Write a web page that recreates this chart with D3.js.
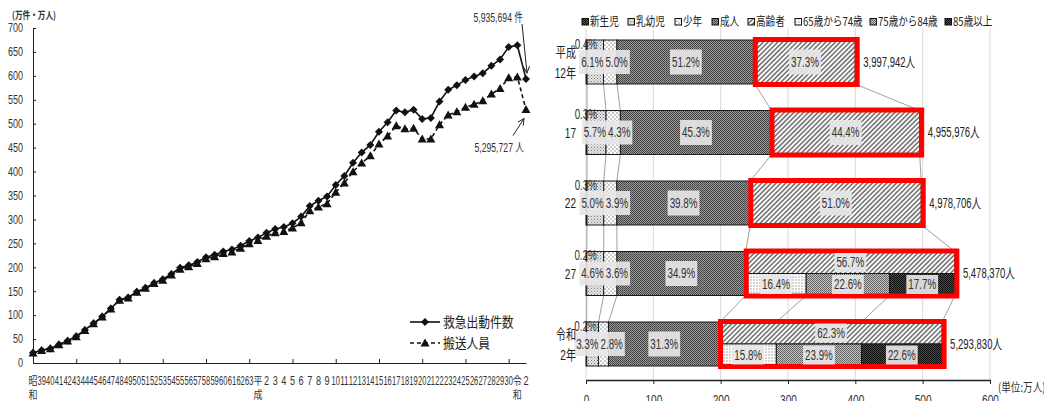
<!DOCTYPE html>
<html>
<head>
<meta charset="utf-8">
<script src="https://cdn.jsdelivr.net/npm/d3@7"></script>
<style>
  body { margin: 0; background: #fff; }
  svg { display: block; background: #fff; }
</style>
</head>
<body>
<svg id="chart" width="1044" height="401"></svg>
<script>
// ===== Line chart: ambulance dispatches and people transported, 1963–2020 =====
const yearLabels = [
  "昭和","39","40","41","42","43","44","45","46","47","48","49","50","51","52","53","54",
  "55","56","57","58","59","60","61","62","63",
  "平成","2","3","4","5","6","7","8","9","10","11","12","13","14","15","16","17","18","19",
  "20","21","22","23","24","25","26","27","28","29","30",
  "令和","2"
];
// 救急出動件数 (万件)
const dispatches = [
  21.3, 26.5, 30.5, 38.5, 46.5, 56, 69, 83, 97, 114, 132, 137, 149, 157, 167, 175, 186,
  199, 204, 211, 221, 226, 233, 237, 245, 255,
  262, 272, 280, 284, 292, 306, 328, 339, 348, 372, 391, 418.3, 439.8, 455.6, 483.1, 502.9,
  527.8, 523.8, 529.3, 509.7, 512.2, 546.4, 570.8, 580.2, 591.6, 598.5, 605.5, 621.0, 634.2, 660.5,
  664.0, 593.6
];
// 搬送人員 (万人)
const transported = [
  21, 26, 30, 38, 46, 55, 68, 82, 96, 113, 131, 136, 148, 156, 166, 173, 184,
  196, 201, 208, 218, 222, 229, 232, 240, 249,
  256, 265, 272, 275, 282, 293, 318, 326, 333, 357, 376, 399.8, 417.8, 433.1, 457.5, 474.3,
  495.6, 489.3, 490.3, 467.9, 468.3, 497.9, 518.3, 525.0, 534.6, 540.6, 547.8, 562.1, 573.6, 596.0,
  597.8, 529.6
];
const yTicks = [0, 50, 100, 150, 200, 250, 300, 350, 400, 450, 500, 550, 600, 650, 700];
const lineSeries = ["救急出動件数", "搬送人員"];
const lastDispatchText = "5,935,694 件";
const lastTransportText = "5,295,727 人";

// ===== Stacked bars: transported people by age group =====
const barYears = ["平成\n12年", "17", "22", "27", "令和\n2年"];
const barTotals = [3997942, 4955976, 4978706, 5478370, 5293830];
const groupNames = ["新生児", "乳幼児", "少年", "成人", "高齢者"];
const shNewborn = [0.4, 0.3, 0.3, 0.2, 0.2];
const shInfant  = [6.1, 5.7, 5.0, 4.6, 3.3];
const shYouth   = [5.0, 4.3, 3.9, 3.6, 2.8];
const shAdult   = [51.2, 45.3, 39.8, 34.9, 31.3];
const shElderly = [37.3, 44.4, 51.0, 56.7, 62.3];
const elderNames = ["65歳から74歳", "75歳から84歳", "85歳以上"];
const sh65to74 = [null, null, null, 16.4, 15.8];
const sh75to84 = [null, null, null, 22.6, 23.9];
const sh85plus = [null, null, null, 17.7, 22.6];
const barTicks = [0, 100, 200, 300, 400, 500, 600];
const unitLabel = "(単位:万人)";
const yAxisTitle = "(万件・万人)";

// ---------------------------------------------------------------
const SANS = '"Liberation Sans","Noto Sans CJK JP",sans-serif';
const JP = '"Noto Sans CJK JP","Noto Sans",sans-serif';
const svg = d3.select("#chart");
const defs = svg.append("defs");

// condensed look: shrink each text horizontally by a factor
function squeeze(sel, f) {
  sel.each(function () {
    const w = this.getComputedTextLength();
    d3.select(this).attr("textLength", w * f).attr("lengthAdjust", "spacingAndGlyphs");
  });
  return sel;
}

// ---------- left chart ----------
const xL = d3.scalePoint().domain(d3.range(yearLabels.length)).range([33, 526]);
const yL = d3.scaleLinear().domain([0, 700]).range([363, 28]);
const gL = svg.append("g");

gL.append("g")
  .attr("transform", "translate(33,0)")
  .call(d3.axisLeft(yL).tickValues(yTicks).tickSize(-3).tickSizeOuter(0).tickPadding(10))
  .call(g => g.attr("font-family", SANS).attr("font-size", 12))
  .call(g => g.select(".domain").attr("stroke", "#222"))
  .call(g => g.selectAll(".tick line").attr("stroke", "#222"))
  .call(g => squeeze(g.selectAll(".tick text").attr("fill", "#333"), 0.75));

gL.append("g")
  .attr("transform", "translate(0,363)")
  .call(d3.axisBottom(xL).tickValues(d3.range(0, yearLabels.length, 5)).tickSize(-4).tickSizeOuter(0).tickFormat(""))
  .call(g => g.select(".domain").attr("stroke", "#222"))
  .call(g => g.selectAll(".tick line").attr("stroke", "#222"));

// category labels: era names are stacked vertically, numbers squeezed into their slot
const xLab = gL.append("g").attr("fill", "#333");
yearLabels.forEach((lab, i) => {
  const isEra = /[^\d]/.test(lab);
  const parts = isEra ? lab.split("") : [lab];
  parts.forEach((p, k) => {
    const t = xLab.append("text")
      .attr("x", xL(i)).attr("y", 385 + k * 14)
      .attr("text-anchor", "middle")
      .attr("font-family", isEra ? JP : SANS)
      .attr("font-size", isEra ? 11 : 13)
      .text(p);
    const w = t.node().getComputedTextLength();
    const target = isEra ? 9 : Math.min(8.4, w * 0.7);
    t.attr("textLength", target).attr("lengthAdjust", "spacingAndGlyphs");
  });
});

gL.append("text")
  .attr("x", 12).attr("y", 19)
  .attr("font-family", JP).attr("font-size", 10).attr("font-weight", "bold")
  .attr("fill", "#333")
  .attr("textLength", 44).attr("lengthAdjust", "spacingAndGlyphs")
  .text(yAxisTitle);

const diamond = "M0,-4L4,0L0,4L-4,0Z";
const triangle = "M0,-4.5L4.5,3.5L-4.5,3.5Z";
const lineGen = d3.line().x((d, i) => xL(i)).y(d => yL(d));

gL.append("path").datum(dispatches).attr("d", lineGen)
  .attr("fill", "none").attr("stroke", "#111").attr("stroke-width", 1.6);
gL.append("g").selectAll("path").data(dispatches).join("path")
  .attr("d", diamond).attr("fill", "#111")
  .attr("transform", (d, i) => `translate(${xL(i)},${yL(d)})`);

gL.append("path").datum(transported).attr("d", lineGen)
  .attr("fill", "none").attr("stroke", "#111").attr("stroke-width", 1.6)
  .attr("stroke-dasharray", "4,3");
gL.append("g").selectAll("path").data(transported).join("path")
  .attr("d", triangle).attr("fill", "#111")
  .attr("transform", (d, i) => `translate(${xL(i)},${yL(d)})`);

// legend
const legL = gL.append("g").attr("font-family", JP).attr("font-size", 14).attr("fill", "#222");
[[diamond, null], [triangle, "4,3"]].forEach(([mk, dash], k) => {
  const yy = 322 + k * 21;
  legL.append("line").attr("x1", 410).attr("x2", 440).attr("y1", yy).attr("y2", yy)
    .attr("stroke", "#111").attr("stroke-width", 1.6).attr("stroke-dasharray", dash);
  legL.append("path").attr("d", mk).attr("fill", "#111").attr("transform", `translate(425,${yy})`);
  squeeze(legL.append("text").attr("x", 443).attr("y", yy).attr("dy", "0.36em").text(lineSeries[k]), 0.84);
});

// annotations on the last year
defs.append("marker").attr("id", "arrowOpen")
  .attr("viewBox", "0 0 10 10").attr("refX", 9).attr("refY", 5)
  .attr("markerWidth", 8).attr("markerHeight", 8).attr("orient", "auto")
  .attr("markerUnits", "userSpaceOnUse")
  .append("path").attr("d", "M1,1L9,5L1,9").attr("fill", "none").attr("stroke", "#222").attr("stroke-width", 1.2);

const lastI = yearLabels.length - 1;
const lx = xL(lastI);
const lyD = yL(dispatches[lastI]);
const lyT = yL(transported[lastI]);
gL.append("line").attr("x1", lx - 4).attr("y1", 24).attr("x2", lx + 1).attr("y2", lyD - 6)
  .attr("stroke", "#222").attr("stroke-width", 1).attr("marker-end", "url(#arrowOpen)");
squeeze(gL.append("text").attr("x", lx - 3).attr("y", 18).attr("dy", "0.35em")
  .attr("text-anchor", "end").attr("font-family", SANS).attr("font-size", 12).attr("fill", "#333")
  .text(lastDispatchText), 0.72);
gL.append("line").attr("x1", lx - 13).attr("y1", lyT + 26).attr("x2", lx - 2).attr("y2", lyT + 9)
  .attr("stroke", "#222").attr("stroke-width", 1).attr("marker-end", "url(#arrowOpen)");
squeeze(gL.append("text").attr("x", lx - 2).attr("y", lyT + 38).attr("dy", "0.35em")
  .attr("text-anchor", "end").attr("font-family", SANS).attr("font-size", 12).attr("fill", "#333")
  .text(lastTransportText), 0.72);

// ---------- right chart ----------
function makePattern(id, size, bg, marks, rotate) {
  const p = defs.append("pattern").attr("id", id)
    .attr("patternUnits", "userSpaceOnUse").attr("width", size).attr("height", size);
  if (rotate) p.attr("patternTransform", `rotate(${rotate})`);
  p.append("rect").attr("width", size).attr("height", size).attr("fill", bg);
  marks.forEach(m => {
    if (m.line) p.append("line").attr("x1", m.x).attr("x2", m.x).attr("y1", 0).attr("y2", size)
      .attr("stroke", m.c).attr("stroke-width", m.w);
    else p.append("rect").attr("x", m.x).attr("y", m.y).attr("width", m.s).attr("height", m.s).attr("fill", m.c);
  });
}
makePattern("pNewborn", 2, "#555", [{x: 0, y: 0, s: 1, c: "#111"}, {x: 1, y: 1, s: 1, c: "#111"}]);
makePattern("pInfant", 3, "#e4e4e4", [{x: 0, y: 0, s: 1, c: "#7a7a7a"}, {x: 1.5, y: 1.5, s: 1, c: "#9a9a9a"}]);
makePattern("pYouth", 4, "#fff", [{x: 0.5, y: 0.5, s: 1, c: "#222"}, {x: 2.5, y: 2.5, s: 1, c: "#444"}]);
makePattern("pAdult", 2, "#9a9a9a", [{x: 0, y: 0, s: 1, c: "#3c3c3c"}, {x: 1, y: 1, s: 1, c: "#4a4a4a"}]);
makePattern("pElderly", 3.4, "#fff", [{line: true, x: 1.7, c: "#333", w: 1.1}], 45);
makePattern("p65", 3, "#fff", [{x: 0.5, y: 0.5, s: 1, c: "#555"}]);
makePattern("p75", 2, "#c4c4c4", [{x: 0, y: 0, s: 1, c: "#5c5c5c"}, {x: 1, y: 1, s: 1, c: "#6a6a6a"}]);
makePattern("p85", 2, "#4a4a4a", [{x: 0, y: 0, s: 1, c: "#0a0a0a"}, {x: 1, y: 1, s: 1, c: "#111"}]);
const mainFills = ["pNewborn", "pInfant", "pYouth", "pAdult", "pElderly"];
const subFills = ["p65", "p75", "p85"];

const xR = d3.scaleLinear().domain([0, 600]).range([586, 990]);
const yR = d3.scaleBand().domain(barYears).range([26.75, 379.25]).paddingInner(0.376).paddingOuter(0.188);
const bh = yR.bandwidth();
const gR = svg.append("g");

// build stacked segments (in 万人)
const mainShares = [shNewborn, shInfant, shYouth, shAdult, shElderly];
const subShares = [sh65to74, sh75to84, sh85plus];
const rows = barYears.map((yr, i) => {
  const total = barTotals[i] / 10000;
  let acc = 0;
  const segs = mainShares.map((arr, j) => {
    const v = total * arr[i] / 100;
    const s = {j, share: arr[i], x0: acc, x1: acc + v};
    acc += v;
    return s;
  });
  let subs = null;
  if (subShares[0][i] != null) {
    let a = segs[4].x0;
    subs = subShares.map((arr, j) => {
      const v = total * arr[i] / 100;
      const s = {j, share: arr[i], x0: a, x1: a + v};
      a += v;
      return s;
    });
  }
  return {yr, i, total: barTotals[i], segs, subs, top: yR(yr), bot: yR(yr) + bh};
});

// gridlines
gR.append("g").selectAll("line").data(barTicks).join("line")
  .attr("x1", d => xR(d)).attr("x2", d => xR(d)).attr("y1", 28).attr("y2", 380)
  .attr("stroke", "#d9d9d9").attr("stroke-width", 1);

// series lines between consecutive bars
const seriesG = gR.append("g").attr("stroke", "#a0a0a0").attr("stroke-width", 1);
for (let i = 0; i < rows.length - 1; i++) {
  const a = rows[i], b = rows[i + 1];
  const pairs = a.segs.map((s, k) => [s.x1, b.segs[k].x1]);
  if (a.subs && b.subs) a.subs.slice(0, 2).forEach((s, k) => pairs.push([s.x1, b.subs[k].x1]));
  pairs.forEach(([u, v]) => seriesG.append("line")
    .attr("x1", xR(u)).attr("y1", a.bot).attr("x2", xR(v)).attr("y2", b.top));
}

// bars
const barsG = gR.append("g");
rows.forEach(r => {
  r.segs.forEach(s => {
    const split = s.j === 4 && r.subs;
    barsG.append("rect")
      .attr("x", xR(s.x0)).attr("width", xR(s.x1) - xR(s.x0))
      .attr("y", r.top).attr("height", split ? bh / 2 : bh)
      .attr("fill", `url(#${mainFills[s.j]})`)
      .attr("stroke", "#1a1a1a").attr("stroke-width", 1);
  });
  if (r.subs) r.subs.forEach(s => {
    barsG.append("rect")
      .attr("x", xR(s.x0)).attr("width", xR(s.x1) - xR(s.x0))
      .attr("y", r.top + bh / 2).attr("height", bh / 2)
      .attr("fill", `url(#${subFills[s.j]})`)
      .attr("stroke", "#1a1a1a").attr("stroke-width", 1);
  });
});

// red frames around the elderly part
rows.forEach(r => {
  const e = r.segs[4];
  gR.append("rect")
    .attr("x", xR(e.x0) + 0.5).attr("y", r.top - 0.5)
    .attr("width", xR(e.x1) - xR(e.x0) + 1.5).attr("height", bh + 1)
    .attr("fill", "none").attr("stroke", "#ff0000").attr("stroke-width", 5);
});

// percentage labels
const labG = gR.append("g").attr("font-family", SANS).attr("font-size", 14).attr("fill", "#333");
const topLabG = gR.append("g").attr("font-family", SANS).attr("font-size", 14).attr("fill", "#333");
const fmtPct = v => v.toFixed(1) + "%";
function pctLabel(parent, x, y, anchor, text, boxed, boxH) {
  const g = parent.append("g");
  const t = g.append("text").attr("x", x).attr("y", y).attr("dy", "0.35em")
    .attr("text-anchor", anchor).text(text);
  squeeze(t, 0.7);
  if (boxed) {
    const bb = t.node().getBBox();
    g.insert("rect", "text")
      .attr("x", bb.x - 2).attr("width", bb.width + 4)
      .attr("y", y - boxH / 2).attr("height", boxH)
      .attr("fill", "#e6e6e6").attr("fill-opacity", 0.92);
  }
}
rows.forEach(r => {
  const cy = r.top + bh / 2;
  const [nb, inf, yo, ad, el] = r.segs;
  // newborn share sits at the top edge, drawn above the other labels
  pctLabel(topLabG, xR(nb.x1) + 10, r.top + 4, "end", fmtPct(nb.share), false);
  pctLabel(labG, xR(inf.x1), cy, "end", fmtPct(inf.share), true, 24);
  pctLabel(labG, xR(yo.x0) + 2, cy, "start", fmtPct(yo.share), true, 24);
  pctLabel(labG, (xR(ad.x0) + xR(ad.x1)) / 2, cy, "middle", fmtPct(ad.share), true, 25);
  if (r.subs) {
    pctLabel(labG, (xR(el.x0) + xR(el.x1)) / 2, r.top + bh / 4, "middle", fmtPct(el.share), true, bh / 2 - 3);
    r.subs.forEach(s => pctLabel(labG, (xR(s.x0) + xR(s.x1)) / 2, r.top + bh * 3 / 4, "middle", fmtPct(s.share), true, bh / 2 - 3));
  } else {
    pctLabel(labG, (xR(el.x0) + xR(el.x1)) / 2, cy, "middle", fmtPct(el.share), true, 25);
  }
  // total people
  squeeze(gR.append("text")
    .attr("x", xR(el.x1) + 8).attr("y", cy).attr("dy", "0.35em")
    .attr("font-family", SANS).attr("font-size", 14).attr("fill", "#222")
    .text(d3.format(",")(r.total) + "人"), 0.68);
  // category label
  const lines = r.yr.split("\n");
  lines.forEach((ln, k) => squeeze(gR.append("text")
    .attr("x", 576).attr("y", cy + (k - (lines.length - 1) / 2) * 21).attr("dy", "0.36em")
    .attr("text-anchor", "end").attr("font-family", SANS).attr("font-size", 14).attr("fill", "#222")
    .text(ln), 0.72));
});
topLabG.raise();

// value axis
gR.append("g")
  .attr("transform", "translate(0,380)")
  .call(d3.axisBottom(xR).tickValues(barTicks).tickSize(4).tickSizeOuter(0).tickPadding(11))
  .call(g => g.attr("font-family", SANS).attr("font-size", 14))
  .call(g => g.select(".domain").attr("stroke", "#222").attr("stroke-width", 1.5))
  .call(g => g.selectAll(".tick line").attr("stroke", "#222"))
  .call(g => squeeze(g.selectAll(".tick text").attr("fill", "#333"), 0.72));
squeeze(gR.append("text").attr("x", 998).attr("y", 388).attr("dy", "0.35em")
  .attr("font-family", JP).attr("font-size", 12).attr("fill", "#333").text(unitLabel), 0.8);

// legend
const legendNames = groupNames.concat(elderNames);
const legendFills = mainFills.concat(subFills);
const legendX = [582, 628, 675, 712, 748, 795, 870, 945];
const legR = gR.append("g").attr("font-family", JP).attr("font-size", 12).attr("fill", "#222");
legendNames.forEach((nm, k) => {
  legR.append("rect").attr("x", legendX[k]).attr("y", 18.5).attr("width", 6.5).attr("height", 6.5)
    .attr("fill", `url(#${legendFills[k]})`).attr("stroke", "#111").attr("stroke-width", 1);
  squeeze(legR.append("text").attr("x", legendX[k] + 8).attr("y", 22).attr("dy", "0.36em").text(nm), 0.8);
});
</script>
</body>
</html>
